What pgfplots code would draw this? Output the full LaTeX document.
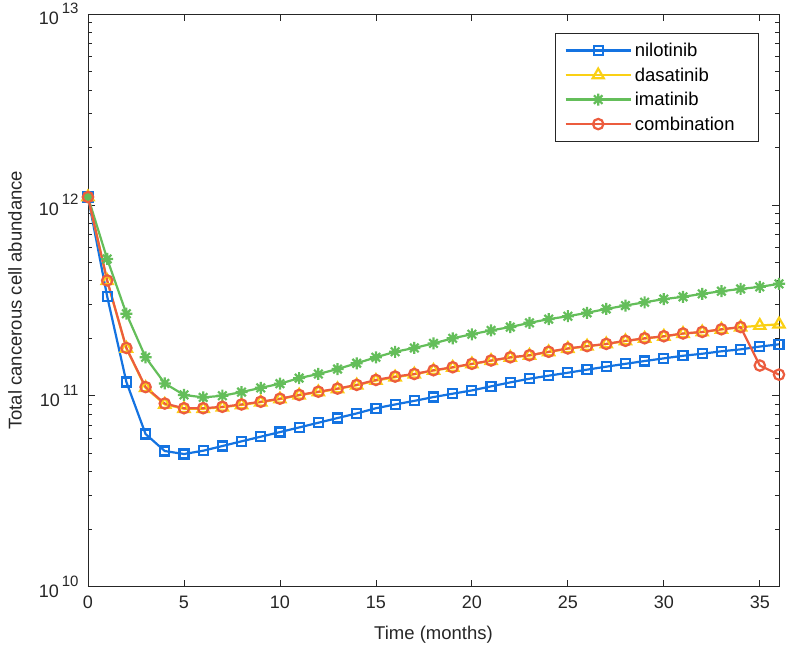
\documentclass[border=0pt]{standalone}
\usepackage{fontspec}
\setmainfont{Liberation Sans}
\usepackage{pgfplots}
\pgfplotsset{compat=1.18}
\definecolor{cblue}{RGB}{20,115,225}
\definecolor{cyellow}{RGB}{250,208,20}
\definecolor{cgreen}{RGB}{100,190,90}
\definecolor{corange}{RGB}{236,92,62}
\definecolor{axgray}{RGB}{38,38,38}
\pgfdeclareplotmark{mstar}{%
 \pgfpathmoveto{\pgfqpoint{-\pgfplotmarksize}{0pt}}\pgfpathlineto{\pgfqpoint{\pgfplotmarksize}{0pt}}%
 \pgfpathmoveto{\pgfqpoint{0pt}{-\pgfplotmarksize}}\pgfpathlineto{\pgfqpoint{0pt}{\pgfplotmarksize}}%
 \pgfpathmoveto{\pgfqpoint{-0.707\pgfplotmarksize}{-0.707\pgfplotmarksize}}\pgfpathlineto{\pgfqpoint{0.707\pgfplotmarksize}{0.707\pgfplotmarksize}}%
 \pgfpathmoveto{\pgfqpoint{-0.707\pgfplotmarksize}{0.707\pgfplotmarksize}}\pgfpathlineto{\pgfqpoint{0.707\pgfplotmarksize}{-0.707\pgfplotmarksize}}%
 \pgfusepathqstroke}
\newcommand{\ylab}[1]{10\,\raisebox{11pt}{\fontsize{15}{15}\selectfont #1}}
\begin{document}
\begin{tikzpicture}
\begin{axis}[
 scale only axis, width=691pt, height=572.4pt,
 xmin=0, xmax=36, ymode=log, ymin=1e10, ymax=1e13,
 xtick={0,5,...,35},
 ytick={1e10,1e11,1e12,1e13},
 yticklabels={\ylab{10},\ylab{11},\ylab{12},\ylab{13}},
 tick align=inside, tick pos=both,
 major tick length=7pt, minor tick length=4pt,
 every tick/.style={axgray, line width=0.8pt},
 axis line style={axgray, line width=0.8pt},
 ticklabel style={font=\fontsize{18}{21}\selectfont, text=axgray},
 xticklabel style={yshift=-6pt},
 yticklabel style={xshift=-6pt},
 /pgf/number format/assume math mode=true,
 xlabel={Time (months)}, ylabel={Total cancerous cell abundance},
 every axis x label/.style={at={(axis description cs:0.5,0)}, anchor=center, yshift=-48pt,
   font=\fontsize{18.5}{21}\selectfont, text=axgray},
 every axis y label/.style={at={(axis description cs:0,0.5)}, rotate=90, anchor=center, yshift=73pt,
   font=\fontsize{18.5}{21}\selectfont, text=axgray},
 legend cell align=left,
 legend style={at={(0.971,0.9675)}, anchor=north east, draw=axgray, line width=0.8pt,
   font=\fontsize{18.5}{21}\selectfont, text=black, row sep=5.6pt, inner xsep=9pt, inner ysep=8pt,
   nodes={inner xsep=3pt}},
 legend image code/.code={%
   \draw[mark repeat=2,mark phase=2,line width=2.2pt] plot coordinates {(0pt,0pt) (32.5pt,0pt) (65pt,0pt)};},
]
\addplot[cblue, line width=2.2pt, mark=square, mark size=4.5pt] coordinates {
(0,1.1e12)(1,3.31e11)(2,1.18e11)(3,6.3e10)(4,5.13e10)(5,4.95e10)(6,5.15e10)(7,5.45e10)(8,5.77e10)(9,6.10e10)
(10,6.45e10)(11,6.82e10)(12,7.22e10)(13,7.64e10)(14,8.08e10)(15,8.6e10)(16,9.0e10)(17,9.4e10)(18,9.84e10)(19,1.025e11)
(20,1.066e11)(21,1.12e11)(22,1.175e11)(23,1.228e11)(24,1.274e11)(25,1.32e11)(26,1.37e11)(27,1.42e11)(28,1.47e11)(29,1.52e11)
(30,1.57e11)(31,1.62e11)(32,1.66e11)(33,1.71e11)(34,1.75e11)(35,1.81e11)(36,1.86e11)};
\addlegendentry{nilotinib}
\addplot[cyellow, line width=2.2pt, mark=triangle, mark size=6.5pt] coordinates {
(0,1.1e12)(1,4.0e11)(2,1.77e11)(3,1.10e11)(4,9.0e10)(5,8.55e10)(6,8.55e10)(7,8.7e10)(8,8.95e10)(9,9.25e10)
(10,9.6e10)(11,1.005e11)(12,1.045e11)(13,1.085e11)(14,1.135e11)(15,1.20e11)(16,1.25e11)(17,1.295e11)(18,1.355e11)(19,1.405e11)
(20,1.465e11)(21,1.525e11)(22,1.585e11)(23,1.625e11)(24,1.695e11)(25,1.765e11)(26,1.815e11)(27,1.865e11)(28,1.935e11)(29,1.995e11)
(30,2.045e11)(31,2.115e11)(32,2.155e11)(33,2.225e11)(34,2.285e11)(35,2.33e11)(36,2.37e11)};
\addlegendentry{dasatinib}
\addplot[cgreen, line width=2.2pt, mark=mstar, mark size=6pt] coordinates {
(0,1.1e12)(1,5.21e11)(2,2.69e11)(3,1.59e11)(4,1.16e11)(5,1.01e11)(6,9.8e10)(7,1.0e11)(8,1.045e11)(9,1.10e11)
(10,1.156e11)(11,1.237e11)(12,1.30e11)(13,1.38e11)(14,1.48e11)(15,1.59e11)(16,1.70e11)(17,1.78e11)(18,1.88e11)(19,2.00e11)
(20,2.10e11)(21,2.20e11)(22,2.29e11)(23,2.41e11)(24,2.52e11)(25,2.61e11)(26,2.72e11)(27,2.85e11)(28,2.97e11)(29,3.09e11)
(30,3.21e11)(31,3.30e11)(32,3.42e11)(33,3.53e11)(34,3.63e11)(35,3.72e11)(36,3.86e11)};
\addlegendentry{imatinib}
\addplot[corange, line width=2.2pt, mark=o, mark size=5.2pt] coordinates {
(0,1.1e12)(1,4.02e11)(2,1.78e11)(3,1.11e11)(4,9.1e10)(5,8.6e10)(6,8.6e10)(7,8.75e10)(8,9.0e10)(9,9.3e10)
(10,9.65e10)(11,1.01e11)(12,1.05e11)(13,1.09e11)(14,1.14e11)(15,1.21e11)(16,1.26e11)(17,1.30e11)(18,1.36e11)(19,1.41e11)
(20,1.47e11)(21,1.53e11)(22,1.59e11)(23,1.63e11)(24,1.70e11)(25,1.77e11)(26,1.82e11)(27,1.87e11)(28,1.94e11)(29,2.00e11)
(30,2.05e11)(31,2.12e11)(32,2.16e11)(33,2.23e11)(34,2.29e11)(35,1.44e11)(36,1.29e11)};
\addlegendentry{combination\rule{12pt}{0pt}}
\end{axis}
\path (current axis.south west) ++(-88pt,-66.3pt) rectangle ++(792pt,652pt);
\end{tikzpicture}
\end{document}
